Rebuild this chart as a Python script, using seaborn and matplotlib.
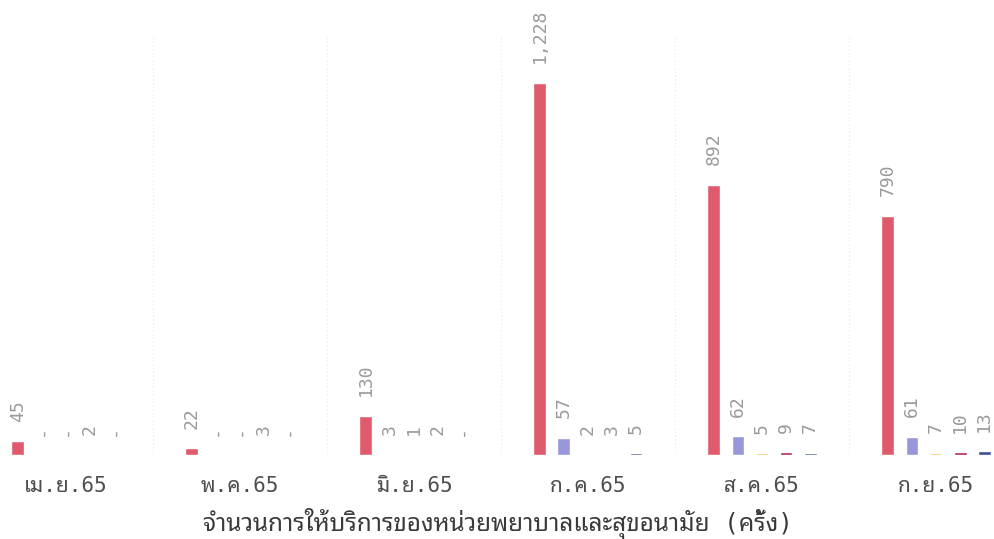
import matplotlib
matplotlib.use("Agg")
import matplotlib.pyplot as plt
import seaborn as sns
import pandas as pd

# ---- data ----
months = ["เม.ย.65", "พ.ค.65", "มิ.ย.65", "ก.ค.65", "ส.ค.65", "ก.ย.65"]
series = ["ชุดที่ 1", "ชุดที่ 2", "ชุดที่ 3", "ชุดที่ 4", "ชุดที่ 5"]
s1 = [45, 22, 130, 1228, 892, 790]
s2 = [0, 0, 3, 57, 62, 61]
s3 = [0, 0, 1, 2, 5, 7]
s4 = [2, 3, 2, 3, 9, 10]
s5 = [0, 0, 0, 5, 7, 13]
colors = ["#E05A6D", "#9797D9", "#F2C24F", "#B3294A", "#3D4F96"]
xlabel = "จำนวนการให้บริการของหน่วยพยาบาลและสุขอนามัย (ครั้ง)"

rows = []
for name, vals in zip(series, [s1, s2, s3, s4, s5]):
    for m, v in zip(months, vals):
        rows.append({"month": m, "series": name, "value": v})
df = pd.DataFrame(rows)

sns.set_theme(style="white")
thai = ["DejaVu Sans Mono", "Noto Sans Thai Looped", "DejaVu Sans"]
plt.rcParams["font.family"] = thai

fig = plt.figure(figsize=(9.95, 5.39), dpi=100)
ax = fig.add_axes([0.0, 1 - 455 / 539, 1.0, 420 / 539])

sns.barplot(data=df, x="month", y="value", hue="series", order=months,
            hue_order=series, palette=colors, width=0.69, gap=0.46,
            errorbar=None, legend=False, ax=ax, saturation=1)

for cont, vals in zip(ax.containers, [s1, s2, s3, s4, s5]):
    labels = ["-" if v == 0 else f"{v:,}" for v in vals]
    ax.bar_label(cont, labels=labels, rotation=90, padding=14,
                 fontsize=13, color="#9a9a9a", family="DejaVu Sans Mono")

ax.set_xlim(-0.379, 5.339)
ax.set_ylim(0, 1386)
ax.set_yticks([])
ax.set_ylabel("")
for sp in ax.spines.values():
    sp.set_visible(False)

ax.set_xticks([i + 0.5 for i in range(len(months) - 1)], minor=True)
ax.grid(False)
ax.grid(which="minor", axis="x", color="#ebebeb", linestyle=(0, (1, 2)), linewidth=0.9)
ax.tick_params(axis="x", which="both", length=0, pad=15, labelsize=15,
               labelcolor="#4d4d4d")
for t in ax.get_xticklabels():
    t.set_fontweight("light")
ax.set_xlabel(xlabel, fontsize=17.5, color="#3a3a3a", labelpad=9,
              fontweight="light")

fig.savefig("out.png", dpi=100)
